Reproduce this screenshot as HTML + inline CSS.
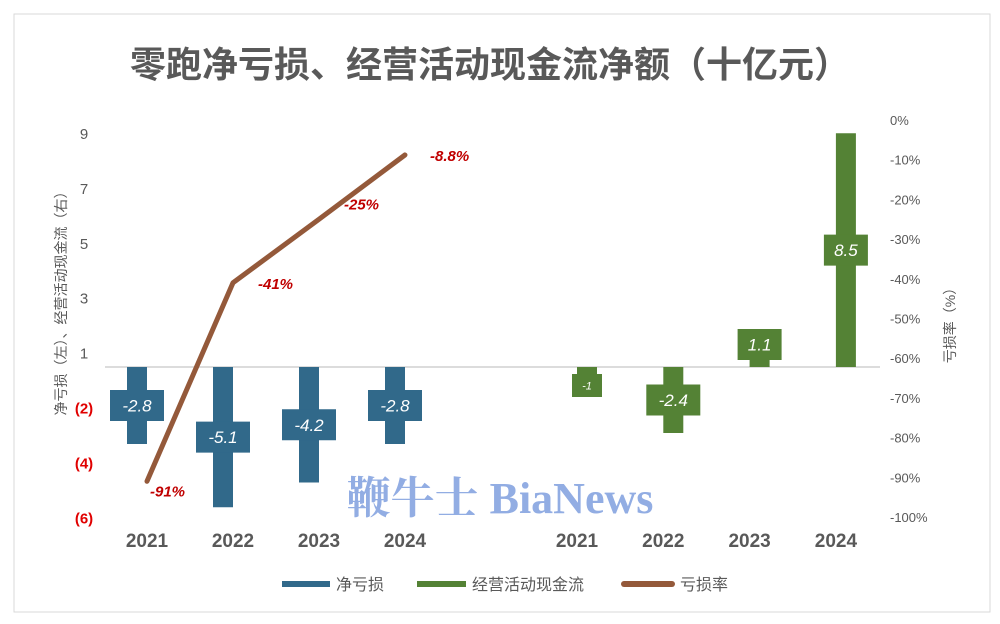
<!DOCTYPE html>
<html><head><meta charset="utf-8"><style>
html,body{margin:0;padding:0;background:#fff;}
svg{display:block;font-family:"Liberation Sans","Noto Sans CJK SC",sans-serif;}
</style></head><body>
<svg id="chart" width="1000" height="624" viewBox="0 0 1000 624">
<rect x="14" y="14" width="976" height="598" fill="#fff" stroke="#d9d9d9" stroke-width="1"/>
<text x="490" y="77" text-anchor="middle" font-size="36" font-weight="bold" fill="#595959" textLength="720" lengthAdjust="spacingAndGlyphs">零跑净亏损、经营活动现金流净额（十亿元）</text>
<text transform="translate(66,300) rotate(-90)" text-anchor="middle" font-size="14" fill="#595959">净亏损（左）、经营活动现金流（右）</text>
<text transform="translate(955,322) rotate(-90)" text-anchor="middle" font-size="14" fill="#595959">亏损率（%）</text>
<g id="leftTicks"></g><g id="rightTicks"></g>
<line x1="105" y1="367" x2="880" y2="367" stroke="#d0d0d0" stroke-width="1.5"/>
<g id="bars"></g>
<text x="500" y="513" text-anchor="middle" font-family="'Liberation Serif','Noto Serif CJK SC',serif" font-size="44" font-weight="bold" fill="#7f9fdf" opacity="0.85">鞭牛士 BiaNews</text>
<g id="line"></g>
<g id="xlabels"></g>
<g>
<rect x="282" y="581" width="48" height="6" fill="#31698a"/>
<text x="336" y="590" font-size="16" fill="#595959">净亏损</text>
<rect x="417" y="581" width="49" height="6" fill="#548235"/>
<text x="472" y="590" font-size="16" fill="#595959">经营活动现金流</text>
<line x1="624" y1="584" x2="672" y2="584" stroke="#94593a" stroke-width="6" stroke-linecap="round"/>
<text x="680" y="590" font-size="16" fill="#595959">亏损率</text>
</g>
</svg>
<script>
const years = ["2021","2022","2023","2024"];
const netLoss = [-2.8, -5.1, -4.2, -2.8];
const cashFlow = [-1, -2.4, 1.1, 8.5];
const lossRate = [-91, -41, -25, -8.8];
const lossRateLabels = ["-91%","-41%","-25%","-8.8%"];
const leftTickLabels = ["9","7","5","3","1","(2)","(4)","(6)"];
const rightTickValues = [0,-10,-20,-30,-40,-50,-60,-70,-80,-90,-100];

const NS="http://www.w3.org/2000/svg";
function mk(tag, attrs, parent){const e=document.createElementNS(NS,tag);for(const k in attrs)e.setAttribute(k,attrs[k]);parent.appendChild(e);return e;}
const yV = v => 367 - v*27.5;
const yR = p => 120 - p*3.97;
const xLeft = i => 137 + i*86;
const xRight = i => 587 + i*86.3;

const lt=document.getElementById('leftTicks');
leftTickLabels.forEach((t,i)=>{
  const e=mk('text',{x:84,y:139+i*54.9,'text-anchor':'middle','font-size':15,fill:t.startsWith('(')?'#e00000':'#595959','font-weight':t.startsWith('(')?'bold':'normal'},lt);
  
  
  e.textContent=t;
});
const rt=document.getElementById('rightTicks');
rightTickValues.forEach(p=>{
  const e=mk('text',{x:890,y:yR(p)+5,'font-size':13,fill:'#595959'},rt);
  
  
  e.textContent=p+'%';
});

const bg=document.getElementById('bars');
function bar(cx,v,color,name){
  const y0=yV(0), y1=yV(v);
  const r=mk('rect',{x:cx-10,y:Math.min(y0,y1),width:20,height:Math.abs(y1-y0),fill:color},bg);
  
  
  const txt=String(v);
  const small=Math.abs(v)<1.05;
  const w=small?30:(txt.length*10+14), h=small?23:31;
  let cy=(y0+y1)/2;
  if(v>0 && cy+h/2>y0-7) cy=y0-7-h/2;
  if(v<0 && cy-h/2<y0+7) cy=y0+7+h/2;
  const b=mk('rect',{x:cx-w/2,y:cy-h/2,width:w,height:h,fill:color},bg);
  
  
  const t=mk('text',{x:cx,y:cy+(small?4:6),'text-anchor':'middle','font-size':small?11:17,'font-style':'italic',fill:'#fff'},bg);
  
  
  t.textContent=txt;
}
netLoss.forEach((v,i)=>bar(xLeft(i),v,'#31698a','bar-net-loss-'+years[i]));
cashFlow.forEach((v,i)=>bar(xRight(i),v,'#548235','bar-cashflow-'+years[i]));

const lg=document.getElementById('line');
const pts=lossRate.map((p,i)=>[xLeft(i)+10,yR(p)]);
const pl=mk('polyline',{points:pts.map(p=>p.join(',')).join(' '),fill:'none',stroke:'#94593a','stroke-width':5,'stroke-linecap':'round','stroke-linejoin':'round'},lg);


const offs=[[3,15],[25,6],[25,-10],[25,6]];
pts.forEach((p,i)=>{
  const t=mk('text',{x:p[0]+offs[i][0],y:p[1]+offs[i][1],'font-size':15,'font-style':'italic','font-weight':'bold',fill:'#c00000'},lg);
  
  
  t.textContent=lossRateLabels[i];
});

const xl=document.getElementById('xlabels');
years.forEach((y,i)=>{
  [xLeft(i)+10,xRight(i)-10].forEach(x=>{
    const t=mk('text',{x:x,y:547,'text-anchor':'middle','font-size':19,'font-weight':'bold',fill:'#595959'},xl);
    
    
    t.textContent=y;
  });
});
</script>
</body></html>
